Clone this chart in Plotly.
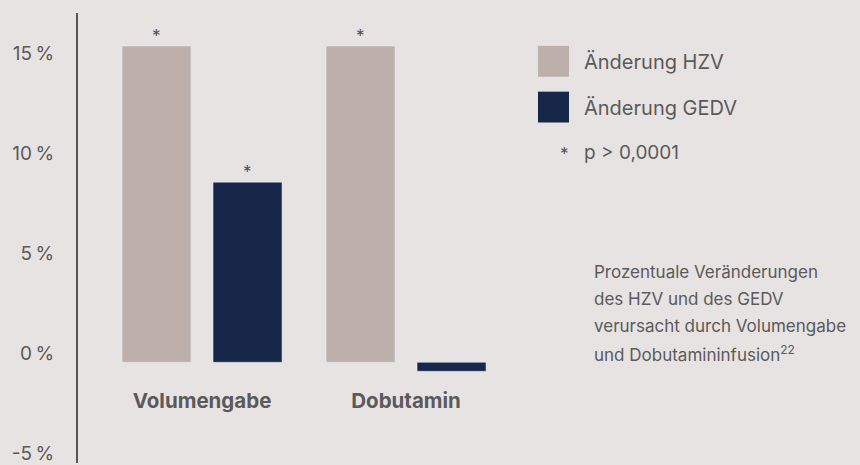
import plotly.graph_objects as go

categories = ["Volumengabe", "Dobutamin"]
series_names = ["Änderung HZV", "Änderung GEDV"]
hzv_values = [15.8, 15.8]
gedv_values = [9.0, -0.45]
hzv_sig = ["*", "*"]
gedv_sig = ["*", ""]
y_ticks = [-5, 0, 5, 10, 15]
y_tick_labels = ["-5\u2009%", "0\u2009%", "5\u2009%", "10\u2009%", "15\u2009%"]
sig_note = "p > 0,0001"
caption_lines = ["Prozentuale Veränderungen", "des HZV und des GEDV",
                 "verursacht durch Volumengabe", "und Dobutamininfusion<sup>22</sup>"]

BG = "#e8e3e3"
C_HZV = "#bdb0ab"
C_GEDV = "#17274a"
TXT = "#5a5a5a"
STAR = "#505050"
FONT = "Inter"

W, H = 860, 465
ML, MR, MT, MB = 78, 0, 13, 0
PW, PH = W - ML - MR, H - MT - MB
GROUP_SHIFT = 45.5  # px offset of a bar centre from its category centre


def px(x):
    return (x - ML) / PW


def py(y):
    return (H - MB - y) / PH


fig = go.Figure()
fig.add_trace(go.Bar(x=categories, y=hzv_values, name=series_names[0], marker_color=C_HZV))
fig.add_trace(go.Bar(x=categories, y=gedv_values, name=series_names[1], marker_color=C_GEDV))

# significance stars above bars
for vals, sig, shift in [(hzv_values, hzv_sig, -GROUP_SHIFT), (gedv_values, gedv_sig, GROUP_SHIFT)]:
    for cat, v, s in zip(categories, vals, sig):
        if s:
            fig.add_annotation(x=cat, y=v, xref="x", yref="y", text=s, showarrow=False,
                               xshift=shift, yshift=10, yanchor="middle",
                               font=dict(size=17, color=STAR, family=FONT))

fig.update_layout(
    width=W, height=H, margin=dict(l=ML, r=MR, t=MT, b=MB),
    paper_bgcolor=BG, plot_bgcolor=BG, showlegend=False,
    barmode="group", bargap=0.108, bargroupgap=0.242,
    font=dict(family=FONT, color=TXT),
    xaxis=dict(type="category", range=[-0.608, 3.225], showgrid=False, zeroline=False,
               showline=False, ticks="", anchor="free", position=0.17,
               tickfont=dict(size=20.5, color=TXT, family=FONT, weight="bold")),
    yaxis=dict(range=[-5.03, 17.45], tickvals=y_ticks, ticktext=y_tick_labels, showgrid=False,
               zeroline=False, showline=True, linecolor="#555555", linewidth=2,
               ticks="", ticklabelstandoff=18, ticklabelshift=-9, ticklabeloverflow="allow",
               tickfont=dict(size=19, color=TXT, family=FONT)),
)

# legend swatches
for i, (name, col) in enumerate(zip(series_names, [C_HZV, C_GEDV])):
    top = 46 + i * 46
    fig.add_shape(type="rect", xref="paper", yref="paper", x0=px(538), x1=px(569),
                  y0=py(top + 31), y1=py(top), fillcolor=col, line_width=0)
    fig.add_annotation(xref="paper", yref="paper", x=px(582), y=py(top + 16), text=name,
                       showarrow=False, xanchor="left", yanchor="middle",
                       font=dict(size=20, color=TXT, family=FONT))

fig.add_annotation(xref="paper", yref="paper", x=px(564), y=py(155), text="*",
                   showarrow=False, xanchor="center", yanchor="middle",
                   font=dict(size=17, color=STAR, family=FONT))
fig.add_annotation(xref="paper", yref="paper", x=px(582), y=py(153), text=sig_note,
                   showarrow=False, xanchor="left", yanchor="middle",
                   font=dict(size=19, color=TXT, family=FONT))

for i, line in enumerate(caption_lines):
    fig.add_annotation(xref="paper", yref="paper", x=px(592), y=py(273 + i * 27.3), text=line,
                       showarrow=False, xanchor="left", yanchor="middle",
                       font=dict(size=17, color=TXT, family=FONT))

fig.write_html("out.html", config={"displayModeBar": False},
               post_script="document.body.style.margin='0';")
